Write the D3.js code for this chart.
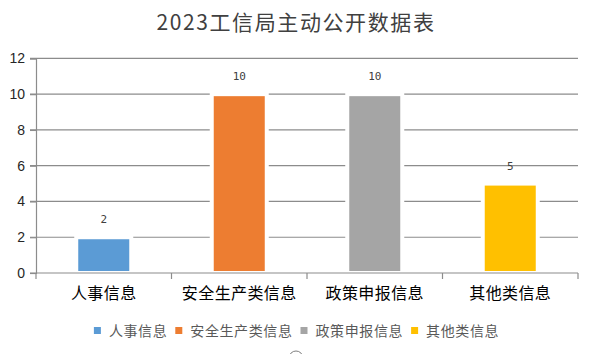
<!DOCTYPE html>
<html lang="zh">
<head>
    <meta charset="UTF-8">
    <title>2023工信局主动公开数据表</title>
    <script src="https://d3js.org/d3.v7.min.js"></script>
    <style>
        body { margin: 0; background: white; }
    </style>
</head>
<body>
<svg id="main" width="592" height="354" viewBox="0 0 592 354"></svg>
<script>
    // chart data
    let categories = ["人事信息", "安全生产类信息", "政策申报信息", "其他类信息"];
    let values = [2, 10, 10, 5];
    let colors = ["#5B9BD5", "#ED7D31", "#A5A5A5", "#FFC000"];
    let yTicks = [0, 2, 4, 6, 8, 10, 12];
    let title = "2023工信局主动公开数据表";

    let svg = d3.select('svg#main');
    svg.style('background-color', 'white');
    let cjk = '"Noto Sans CJK SC", "Noto Sans", sans-serif';

    let xRng = [36, 578];
    let yRng = [273, 58.4];
    let gridColor = "#8c8c8c";

    let scaleX = d3.scaleBand().domain(categories).range(xRng)
        .paddingInner(0.594).paddingOuter(0.297);
    let scaleY = d3.scaleLinear().domain([0, 12]).range(yRng);

    // title
    svg.append('text')
        .attr('x', 296).attr('y', 30)
        .attr('text-anchor', 'middle')
        .style('font-family', cjk)
        .style('font-size', '21px')
        .style('letter-spacing', '1.6px')
        .style('fill', '#404040')
        .text(title);

    // gridlines
    svg.append('g').selectAll('line.grid')
        .data(yTicks.filter(function (d) { return d > 0; }))
        .enter().append('line')
        .attr('class', 'grid')
        .attr('x1', 30).attr('x2', xRng[1])
        .attr('y1', function (d) { return scaleY(d); })
        .attr('y2', function (d) { return scaleY(d); })
        .style('stroke', gridColor).style('stroke-width', 1.2);

    // y axis
    let yAxis = svg.append('g')
        .attr('transform', 'translate(' + xRng[0] + ',0)')
        .call(d3.axisLeft(scaleY).tickValues(yTicks).tickSize(6).tickPadding(5));
    yAxis.select('.domain').style('stroke', gridColor).style('stroke-width', 1.2);
    yAxis.selectAll('.tick line').style('stroke', gridColor).style('stroke-width', 1.2);
    yAxis.selectAll('.tick text')
        .style('font-family', '"Liberation Sans", Arial, sans-serif')
        .style('font-size', '14px')
        .style('fill', '#262626');

    // bars (white edge hides gridlines around them)
    svg.append('g').selectAll('rect.bar')
        .data(values)
        .enter().append('rect')
        .attr('class', 'bar')
        .attr('x', function (d, i) { return scaleX(categories[i]); })
        .attr('width', scaleX.bandwidth())
        .attr('y', function (d) { return scaleY(d); })
        .attr('height', function (d) { return scaleY(0) - scaleY(d); })
        .style('fill', function (d, i) { return colors[i]; })
        .style('stroke', 'white')
        .style('stroke-width', 4);

    // data labels
    svg.append('g').selectAll('text.lbl')
        .data(values)
        .enter().append('text')
        .attr('class', 'lbl')
        .attr('x', function (d, i) { return scaleX(categories[i]) + scaleX.bandwidth() / 2; })
        .attr('y', function (d) { return scaleY(d) - 14; })
        .attr('text-anchor', 'middle')
        .style('font-family', '"DejaVu Sans Mono", monospace')
        .style('font-size', '11px')
        .style('fill', '#404040')
        .text(function (d) { return d; });

    // x axis, ticks on category boundaries
    let step = scaleX.step();
    let bounds = d3.range(categories.length + 1).map(function (i) { return xRng[0] + i * step; });
    let xAxis = svg.append('g');
    xAxis.append('line')
        .attr('x1', 30).attr('x2', xRng[1])
        .attr('y1', scaleY(0)).attr('y2', scaleY(0))
        .style('stroke', gridColor).style('stroke-width', 1.2);
    xAxis.selectAll('line.xt')
        .data(bounds)
        .enter().append('line')
        .attr('class', 'xt')
        .attr('x1', function (d) { return d; }).attr('x2', function (d) { return d; })
        .attr('y1', scaleY(0)).attr('y2', scaleY(0) + 6)
        .style('stroke', gridColor).style('stroke-width', 1.2);
    xAxis.selectAll('text')
        .data(categories)
        .enter().append('text')
        .attr('x', function (d) { return scaleX(d) + scaleX.bandwidth() / 2; })
        .attr('y', 299)
        .attr('text-anchor', 'middle')
        .style('font-family', cjk)
        .style('font-size', '16px')
        .style('letter-spacing', '0.4px')
        .style('fill', '#000')
        .text(function (d) { return d; });

    // legend, centred under the chart
    let legend = svg.append('g');
    let items = legend.selectAll('g.item')
        .data(categories)
        .enter().append('g')
        .attr('class', 'item');
    items.append('rect')
        .attr('width', 7).attr('height', 7)
        .attr('y', 327)
        .style('fill', function (d, i) { return colors[i]; });
    items.append('text')
        .attr('y', 336)
        .style('font-family', cjk)
        .style('font-size', '14px')
        .style('letter-spacing', '0.6px')
        .style('fill', '#595959')
        .text(function (d) { return d; });
    let xPos = 0;
    let widths = [];
    items.each(function () {
        let w = d3.select(this).select('text').node().getComputedTextLength();
        widths.push(w);
    });
    let total = d3.sum(widths) + categories.length * 15 + (categories.length - 1) * 8;
    xPos = 296.5 - total / 2;
    items.each(function (d, i) {
        let g = d3.select(this);
        g.select('rect').attr('x', xPos);
        g.select('text').attr('x', xPos + 15);
        xPos += 15 + widths[i] + 8;
    });

    // partial circle at the bottom edge
    svg.append('circle')
        .attr('cx', 296).attr('cy', 358).attr('r', 7)
        .style('fill', 'none').style('stroke', '#7f7f7f').style('stroke-width', 1);
</script>
</body>
</html>
